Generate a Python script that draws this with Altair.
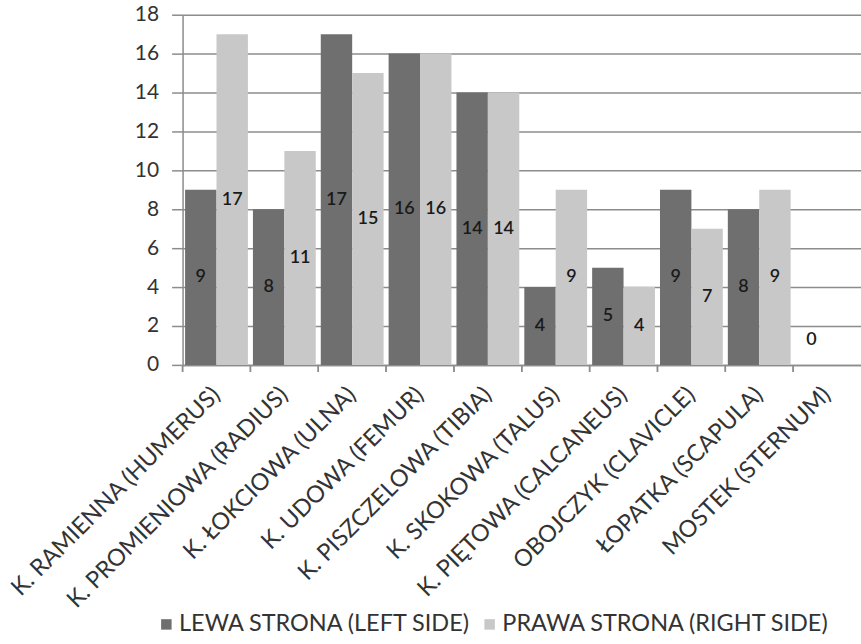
import altair as alt
import pandas as pd

bones = [
    "K. RAMIENNA (HUMERUS)",
    "K. PROMIENIOWA (RADIUS)",
    "K. ŁOKCIOWA (ULNA)",
    "K. UDOWA (FEMUR)",
    "K. PISZCZELOWA (TIBIA)",
    "K. SKOKOWA (TALUS)",
    "K. PIĘTOWA (CALCANEUS)",
    "OBOJCZYK (CLAVICLE)",
    "ŁOPATKA (SCAPULA)",
    "MOSTEK (STERNUM)",
]
left_side = [9, 8, 17, 16, 14, 4, 5, 9, 8, 0]
right_side = [17, 11, 15, 16, 14, 9, 4, 7, 9, 0]
series = ["LEWA STRONA (LEFT SIDE)", "PRAWA STRONA (RIGHT SIDE)"]
y_ticks = [0, 2, 4, 6, 8, 10, 12, 14, 16, 18]

rows = []
for b, l, r in zip(bones, left_side, right_side):
    rows.append({"bone": b, "side": series[0], "value": l})
    rows.append({"bone": b, "side": series[1], "value": r})
df = pd.DataFrame(rows)

FONT = "Lato"
GRID = "#8c8c8c"
TXT = "#333333"

xscale = alt.Scale(paddingInner=0, paddingOuter=0)
yscale = alt.Scale(domain=[0, 18], nice=False)
xaxis = alt.Axis(labelAngle=-45, labelAlign="right", labelBaseline="middle",
                 labelFontSize=23.5, labelColor=TXT, labelPadding=26,
                 ticks=False, domain=True, domainColor=GRID, domainWidth=1.5,
                 labelLimit=600, labelOverlap=False, labelFont=FONT)
yaxis = alt.Axis(values=y_ticks, grid=True, gridColor=GRID, gridWidth=1.5,
                 domainColor=GRID, domainWidth=1.5, tickColor=GRID, tickWidth=1.5,
                 tickSize=11, labelPadding=13, labelFontSize=21,
                 labelColor=TXT, labelOverlap=False, labelFont=FONT)
xoff = alt.XOffset("side:N", sort=series, scale=alt.Scale(paddingOuter=0.08, paddingInner=0))

bars = alt.Chart(df).mark_bar().encode(
    x=alt.X("bone:N", sort=bones, title=None, scale=xscale, axis=xaxis),
    xOffset=xoff,
    y=alt.Y("value:Q", title=None, scale=yscale, axis=yaxis),
    color=alt.Color("side:N", sort=series, title=None,
                    scale=alt.Scale(domain=series, range=["#6f6f6f", "#c8c8c8"]),
                    legend=alt.Legend(orient="none", legendX=-28, legendY=599,
                                      direction="horizontal", symbolType="square",
                                      symbolSize=110, symbolStrokeWidth=0,
                                      labelFontSize=23.5, labelColor=TXT, labelFont=FONT,
                                      labelLimit=600,
                                      columnPadding=6, symbolOffset=0, labelOffset=1)),
)

# category boundary ticks below the x axis
ticks = alt.Chart(df).mark_rule(color=GRID, strokeWidth=1.5).encode(
    x=alt.X("bone:N", sort=bones, title=None, scale=xscale, axis=xaxis, bandPosition=0),
    y=alt.value(351),
    y2=alt.value(358),
)

labels = alt.Chart(df).transform_filter(
    "!(datum.value == 0 && datum.side == 'PRAWA STRONA (RIGHT SIDE)')"
).transform_calculate(
    mid="max(datum.value / 2, 1.3)"
).mark_text(fontSize=18, color="#1a1a1a", fontWeight=600, font=FONT).encode(
    x=alt.X("bone:N", sort=bones, title=None, scale=xscale, axis=xaxis),
    xOffset=xoff,
    y=alt.Y("mid:Q", title=None, scale=yscale, axis=yaxis),
    text=alt.Text("value:Q"),
)

chart = alt.layer(bars, ticks, labels).properties(
    width=680, height=351,
    autosize=alt.AutoSizeParams(type="none"),
    padding={"left": 183, "top": 14, "right": 0, "bottom": 279},
).configure(font=FONT).configure_view(stroke=None)

chart.save("out.html", embed_options={"renderer": "svg", "actions": False})
